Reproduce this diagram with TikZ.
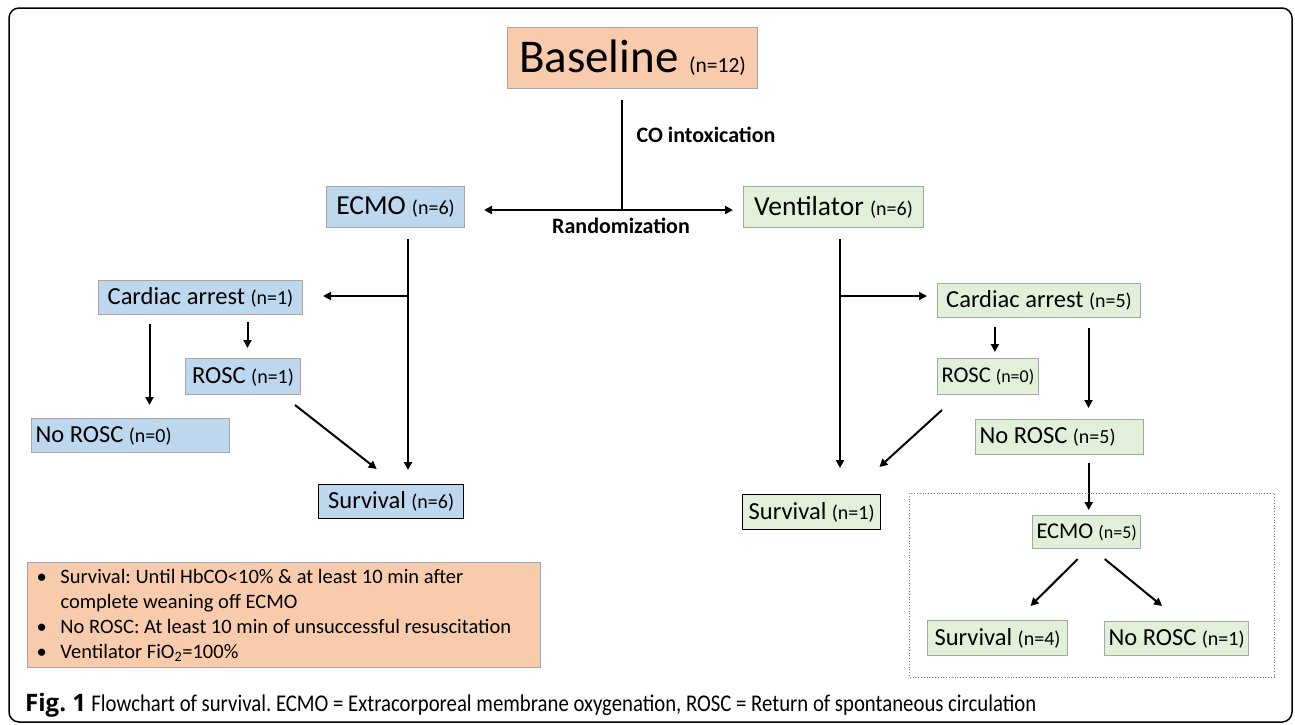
\documentclass[tikz,border=0pt]{standalone}
\usepackage{fontspec}
\setmainfont{Carlito}
\newfontfamily\capfont[FakeStretch=0.865]{Carlito}
\newfontfamily\figfont{Open Sans}
\usepackage{xcolor}
\definecolor{peach}{HTML}{F8CBAD}
\definecolor{ecmoblue}{HTML}{BDD7EE}
\definecolor{ventgreen}{HTML}{E2F0D9}
\definecolor{edge}{HTML}{A6A6A6}
\usetikzlibrary{arrows.meta, positioning}
\newcommand{\cnt}[1]{{\fontsize{20}{24}\selectfont #1}}
\newcommand{\cnts}[1]{{\fontsize{18}{22}\selectfont #1}}
\frenchspacing

\begin{document}
\begin{tikzpicture}[x=1pt, y=-1pt,
  box/.style={rectangle, draw=edge, line width=1pt, anchor=north west,
              inner xsep=4pt, inner ysep=0pt, font=\fontsize{24.5}{29}\selectfont},
  ecmobox/.style={box, fill=ecmoblue},
  ventbox/.style={box, fill=ventgreen},
  survbox/.style={draw=black, line width=1.4pt},
  bigtext/.style={font=\fontsize{27.5}{33}\selectfont},
  arrow/.style={-{Triangle[length=8pt, width=8pt]}, line width=2pt},
  trunk/.style={line width=2pt},
  steplabel/.style={font=\fontsize{22}{26}\selectfont\bfseries},
]
  \useasboundingbox (0,0) rectangle (1295,724);
  \draw[line width=1.5pt, rounded corners=10pt] (9,8) rectangle (1292,722);

  % Baseline
  \node[box, fill=peach, minimum width=250pt, minimum height=61pt,
        font=\fontsize{47}{56}\selectfont] (base) at (507,27)
        {Baseline {\fontsize{21.5}{26}\selectfont(n=12)}};
  \coordinate (coTop) at (622,100);
  \coordinate (split) at (622,210);
  \draw[trunk] (coTop) -- (split);
  \node[steplabel, anchor=west] (colabel) at (633,135) {CO intoxication};
  \node[steplabel] (randlabel) at (621,226) {Randomization};

  % Bras ECMO
  \node[ecmobox, bigtext, minimum width=138pt, minimum height=41pt] (ecmo) at (326,186) {ECMO \cnt{(n=6)}};
  \node[ecmobox, minimum width=204pt, minimum height=34pt] (caL) at (98,280) {Cardiac arrest \cnt{(n=1)}};
  \node[ecmobox, minimum width=115pt, minimum height=36pt] (roscL) at (185,358) {ROSC \cnt{(n=1)}};
  \node[ecmobox, text width=190pt, align=flush left, minimum height=34pt] (norL) at (31,418) {No ROSC \cnt{(n=0)}};
  \node[ecmobox, survbox, minimum width=145pt, minimum height=34pt] (survL) at (318,484) {Survival \cnt{(n=6)}};

  % Bras ventilateur
  \node[ventbox, bigtext, minimum width=180pt, minimum height=41pt] (vent) at (743,186) {Ventilator \cnt{(n=6)}};
  \node[ventbox, minimum width=203pt, minimum height=34pt] (caR) at (937,283) {Cardiac arrest \cnt{(n=5)}};
  \node[ventbox, minimum width=98pt, minimum height=36pt, font=\fontsize{22.5}{27}\selectfont] (roscR) at (937,358) {ROSC \cnts{(n=0)}};
  \node[ventbox, text width=160pt, align=flush left, minimum height=35pt] (norR) at (975,419) {No ROSC \cnt{(n=5)}};
  \node[ventbox, survbox, minimum width=138pt, minimum height=35pt] (survR) at (742,494) {Survival \cnt{(n=1)}};
  \node[ventbox, minimum width=108pt, minimum height=33pt, font=\fontsize{22.5}{27}\selectfont] (ecmo2) at (1032,515) {ECMO \cnts{(n=5)}};
  \node[ventbox, minimum width=140pt, minimum height=35pt] (surv4) at (927,620) {Survival \cnt{(n=4)}};
  \node[ventbox, minimum width=141pt, minimum height=34pt] (nor1) at (1104,621) {No ROSC \cnt{(n=1)}};

  % Randomisation
  \draw[arrow, shorten >=19pt] (split) -- (split -| ecmo.east);
  \draw[arrow, shorten >=10pt] (split) -- (split -| vent.west);

  % Connexions ECMO
  \coordinate (forkL) at (408,296);
  \draw[arrow, shorten <=11pt, shorten >=14pt] (forkL |- ecmo.south) -- (forkL |- survL.north);
  \draw[arrow, shorten >=20pt] (forkL) -- (forkL -| caL.east);
  \draw[arrow, shorten <=7pt, shorten >=10pt] ([xshift=4.5pt]roscL.north |- caL.south) -- ([xshift=4.5pt]roscL.north);
  \draw[arrow, shorten <=9pt, shorten >=13pt] ([xshift=-51pt]caL.south) -- ([xshift=-51pt]caL.south |- norL.north);
  \draw[arrow] ([shift={(-6,10)}]roscL.south east) -- ([shift={(-14.5,-15)}]survL.north);

  % Connexions ventilateur
  \coordinate (forkR) at (840,296);
  \draw[arrow, shorten <=11pt, shorten >=26pt] (forkR |- vent.south) -- (forkR |- survR.north);
  \draw[arrow, shorten >=10pt] (forkR) -- (forkR -| caR.west);
  \draw[arrow, shorten <=9pt, shorten >=6pt] ([xshift=7pt]roscR.north |- caR.south) -- ([xshift=7pt]roscR.north);
  \draw[arrow, shorten <=10pt, shorten >=11pt] ([xshift=29pt]norR.north |- caR.south) -- ([xshift=29pt]norR.north);
  \draw[arrow] ([shift={(5,15)}]roscR.south west) -- ([shift={(-2,-27)}]survR.north east);
  \draw[arrow, shorten <=8pt, shorten >=5pt] ([xshift=2pt]ecmo2.north |- norR.south) -- ([xshift=2pt]ecmo2.north);
  \draw[arrow] ([shift={(-9,10)}]ecmo2.south) -- ([shift={(33,-14)}]surv4.north);
  \draw[arrow] ([shift={(18,10)}]ecmo2.south) -- ([shift={(-14.5,-15)}]nor1.north);

  % ECMO de sauvetage
  \draw[dotted, draw=gray, line width=0.8pt] (909,493) rectangle (1274,677);

  % Definitions
  \node[box, fill=peach, text width=495pt, align=flush left, minimum height=105pt,
        inner xsep=9pt, font=\fontsize{20.5}{25}\selectfont] (notes) at (27,562)
        {\makebox[24pt][l]{\textbullet}Survival: Until HbCO<10\% \& at least 10 min after\\
         \hspace*{24pt}complete weaning off ECMO\\
         \makebox[24pt][l]{\textbullet}No ROSC: At least 10 min of unsuccessful resuscitation\\
         \makebox[24pt][l]{\textbullet}Ventilator FiO\textsubscript{2}=100\%};

  % Legende
  \node[anchor=west, inner sep=0pt, font=\fontsize{24}{28}\selectfont] (caption) at (25,705)
        {{\figfont\bfseries Fig.~1} {\capfont Flowchart of survival. ECMO = Extracorporeal membrane oxygenation, ROSC = Return of spontaneous circulation}};
\end{tikzpicture}
\end{document}
